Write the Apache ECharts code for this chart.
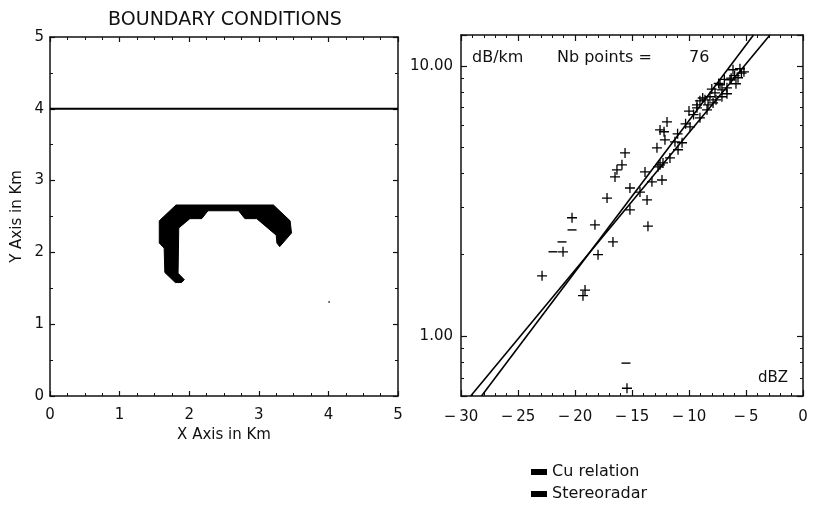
<!DOCTYPE html>
<html><head><meta charset="utf-8">
<script src="https://cdn.jsdelivr.net/npm/echarts@6/dist/echarts.min.js"></script>
<style>html,body{margin:0;padding:0;background:#fff}#c{width:820px;height:513px}</style>
</head><body><div id="c"></div>
<script>
// ---- Left panel: boundary conditions (km) ----
const boundaryShapeX = [1.81,3.21,3.45,3.47,3.30,3.26,3.25,2.97,2.80,2.71,2.27,2.18,2.01,1.85,1.84,1.93,1.89,1.80,1.65,1.64,1.57,1.57];
const boundaryShapeY = [2.66,2.66,2.44,2.27,2.08,2.13,2.24,2.47,2.47,2.58,2.58,2.47,2.47,2.34,1.71,1.62,1.58,1.58,1.72,2.06,2.13,2.44];
const boundaryLineX = [0, 5];
const boundaryLineY = [4, 4];
const speckX = [4.01];
const speckY = [1.31];
const leftTickLabels = ['0','1','2','3','4','5'];

// ---- Right panel: dB/km vs dBZ ----
const plusDBZ = [-5.53,-6.14,-5.70,-5.88,-7.28,-6.67,-7.11,-7.72,-6.67,-8.16,-7.11,-7.63,-9.04,-9.30,-8.33,-7.89,-9.30,-8.42,-9.04,-9.91,-5.18,-6.40,-8.60,
  -11.93,-12.54,-12.19,-12.11,-11.23,-10.61,-12.81,-10.96,-11.67,-12.28,-12.72,-13.86,-13.25,-12.37,-12.54,
  -15.61,-15.88,-16.32,-16.49,-15.18,-14.30,-13.68,-17.19,-15.18,-13.60,-18.25,-16.67,-17.98,
  -20.26,-21.05,-22.89,-19.12,-19.30,-15.44,
  -6.9,-8.0,-9.6,-10.3,-11.0,-6.0,-7.4,-8.8,-10.0,-5.4,-6.3];
const plusK = [9.75,9.67,9.03,8.58,8.51,8.29,8.15,7.94,7.88,7.68,7.68,7.48,7.42,7.17,7.17,7.29,6.99,6.87,6.42,5.94,9.50,8.87,7.48,
  6.20,5.79,5.70,5.32,5.23,5.19,4.97,4.89,4.56,4.37,4.23,4.05,3.72,3.78,4.30,
  4.76,4.30,4.12,3.88,3.53,3.41,3.19,3.24,2.93,2.55,2.58,2.23,2.00,
  2.74,2.05,1.67,1.48,1.41,0.641,
  8.9,8.2,6.6,6.1,5.6,9.2,8.6,7.6,6.8,9.4,9.0];
const dashDBZ = [-20.26,-21.14,-21.93,-15.53];
const dashK = [2.47,2.23,2.05,0.794];
const cuRelationDBZ = [-29.15, -2.9];
const cuRelationK = [0.6, 13];
const stereoradarDBZ = [-28.2, -4.34];
const stereoradarK = [0.6, 13];
const rightYTickLabels = {'1':'1.00','10':'10.00'};
const nbPoints = 76;

const FONT = 'DejaVu Sans';
const INK = '#111';
const plusPath = 'path://M0,4.35H10V5.65H0Z M4.35,0H5.65V10H4.35Z';

const chart = echarts.init(document.getElementById('c'), null, {renderer:'canvas'});

function axisBase(extra) {
  return Object.assign({
    axisLine: {show:true, onZero:false, lineStyle:{color:INK, width:1.5}},
    splitLine: {show:false},
    axisLabel: {color:INK, fontFamily:FONT, fontSize:15},
    nameTextStyle: {color:INK, fontFamily:FONT, fontSize:15}
  }, extra);
}
const leftTicks = {show:true, inside:true, length:5, lineStyle:{color:INK, width:1.2}};
const rightTicks = {show:true, inside:true, length:6, lineStyle:{color:INK, width:1.2}};
const minorL = (n) => ({show:true, splitNumber:n, length:3, lineStyle:{color:INK, width:1}});

const minusFmt = v => String(v).replace('-', '\u2212\u2009');
const logFmt = v => {
  const lv = Math.log10(v);
  if (Math.abs(lv - Math.round(lv)) < 1e-6) {
    return rightYTickLabels[String(Math.round(Math.pow(10, Math.round(lv))))] || '';
  }
  return '';
};

const option = {
  animation: false,
  backgroundColor: '#fff',
  grid: [
    {left:50, top:37, width:348, height:359},
    {left:461, top:35, width:342, height:361}
  ],
  xAxis: [
    axisBase({gridIndex:0, type:'value', min:0, max:5, interval:1, position:'bottom',
      axisTick:leftTicks, minorTick:minorL(4),
      axisLabel:{color:INK, fontFamily:FONT, fontSize:15, margin:12, formatter:(v)=>leftTickLabels[Math.round(v)]},
      name:'X Axis in Km', nameLocation:'middle', nameGap:29}),
    axisBase({gridIndex:0, type:'value', min:0, max:5, interval:1, position:'top',
      axisTick:leftTicks, minorTick:minorL(4), axisLabel:{show:false}}),
    axisBase({gridIndex:1, type:'value', min:-30, max:0, interval:5, position:'bottom',
      axisTick:rightTicks, minorTick:minorL(5),
      axisLabel:{color:INK, fontFamily:FONT, fontSize:15, margin:14, formatter:minusFmt}}),
    axisBase({gridIndex:1, type:'value', min:-30, max:0, interval:5, position:'top',
      axisTick:rightTicks, minorTick:minorL(5), axisLabel:{show:false}})
  ],
  yAxis: [
    axisBase({gridIndex:0, type:'value', min:0, max:5, interval:1, position:'left',
      axisTick:leftTicks, minorTick:minorL(2),
      axisLabel:{color:INK, fontFamily:FONT, fontSize:15, margin:6, formatter:(v)=>leftTickLabels[Math.round(v)]},
      name:'Y Axis in Km', nameLocation:'middle', nameGap:25}),
    axisBase({gridIndex:0, type:'value', min:0, max:5, interval:1, position:'right',
      axisTick:leftTicks, minorTick:minorL(2), axisLabel:{show:false}}),
    axisBase({gridIndex:1, type:'log', logBase:10, min:0.6, max:13, position:'left',
      axisTick:rightTicks, minorTick:minorL(9),
      axisLabel:{color:INK, fontFamily:FONT, fontSize:15, margin:8, formatter:logFmt}}),
    axisBase({gridIndex:1, type:'log', logBase:10, min:0.6, max:13, position:'right',
      axisTick:rightTicks, minorTick:minorL(9), axisLabel:{show:false}})
  ],
  legend: {
    orient:'vertical', left:526, top:459, itemWidth:16, itemHeight:6, itemGap:6, icon:'rect',
    data:['Cu relation','Stereoradar'],
    textStyle:{color:INK, fontFamily:FONT, fontSize:16}
  },
  graphic: [
    {type:'text', x:225, y:20, style:{text:'BOUNDARY CONDITIONS', fill:INK, font:'19px "DejaVu Sans"', align:'center', verticalAlign:'middle'}},
    {type:'text', x:472, y:58, style:{text:'dB/km', fill:INK, font:'16px "DejaVu Sans"', align:'left', verticalAlign:'middle'}},
    {type:'text', x:557, y:58, style:{text:'Nb points =', fill:INK, font:'16px "DejaVu Sans"', align:'left', verticalAlign:'middle'}},
    {type:'text', x:689, y:58, style:{text:String(nbPoints), fill:INK, font:'16px "DejaVu Sans"', align:'left', verticalAlign:'middle'}},
    {type:'text', x:788, y:378, style:{text:'dBZ', fill:INK, font:'15px "DejaVu Sans"', align:'right', verticalAlign:'middle'}}
  ],
  series: [
    {
      type:'custom', xAxisIndex:0, yAxisIndex:0, silent:true,
      data: [[boundaryShapeX[0], boundaryShapeY[0]]],
      renderItem: (params, api) => ({
        type:'polygon',
        shape:{points: boundaryShapeX.map((x,i)=>api.coord([x, boundaryShapeY[i]]))},
        style:{fill:'#000', stroke:'#000', lineWidth:1}
      })
    },
    {
      type:'line', xAxisIndex:0, yAxisIndex:0, symbol:'none', silent:true,
      data: boundaryLineX.map((x,i)=>[x, boundaryLineY[i]]),
      lineStyle:{color:'#000', width:2}
    },
    {
      type:'scatter', xAxisIndex:0, yAxisIndex:0, symbol:'circle', symbolSize:2, silent:true,
      data: speckX.map((x,i)=>[x, speckY[i]]), itemStyle:{color:'#222'}
    },
    {
      name:'Cu relation', type:'line', xAxisIndex:2, yAxisIndex:2, symbol:'none',
      data: cuRelationDBZ.map((x,i)=>[x, cuRelationK[i]]),
      lineStyle:{color:'#000', width:1.6}, itemStyle:{color:'#000'}
    },
    {
      name:'Stereoradar', type:'line', xAxisIndex:2, yAxisIndex:2, symbol:'none',
      data: stereoradarDBZ.map((x,i)=>[x, stereoradarK[i]]),
      lineStyle:{color:'#000', width:1.6}, itemStyle:{color:'#000'}
    },
    {
      type:'scatter', xAxisIndex:2, yAxisIndex:2, symbol:plusPath, symbolSize:10, silent:true,
      data: plusDBZ.map((x,i)=>[x, plusK[i]]), itemStyle:{color:'#000', opacity:1}
    },
    {
      type:'scatter', xAxisIndex:2, yAxisIndex:2, symbol:'rect', symbolSize:[9,1.4], silent:true,
      data: dashDBZ.map((x,i)=>[x, dashK[i]]), itemStyle:{color:'#000', opacity:1}
    }
  ]
};
chart.setOption(option);
</script>
</body></html>
